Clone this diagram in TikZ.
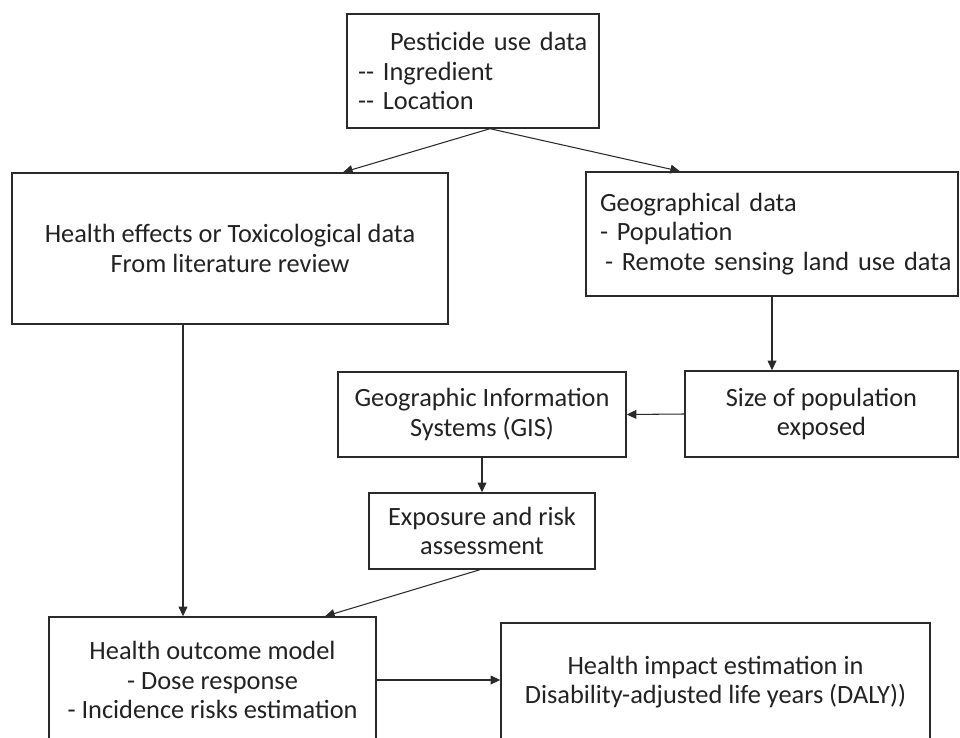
\documentclass[tikz,border=0pt]{standalone}
\usepackage{fontspec}
\setmainfont{Carlito}
\usetikzlibrary{arrows.meta,calc}
\definecolor{ink}{HTML}{222222}
\definecolor{line}{HTML}{2A2A2A}

\begin{document}
\begin{tikzpicture}[
  font=\fontsize{15}{16.6}\selectfont,
  text=ink,
  box/.style={
    draw=line,
    line width=0.8pt,
    align=center,
    inner sep=0pt
  },
  listbox/.style={
    box,
    align=left
  },
  arrow/.style={-{Triangle[length=5.5pt,width=5pt]}, line width=0.6pt, draw=line}
]

\useasboundingbox (0,0) rectangle (19.2,-14.76);
\clip (0,0) rectangle (19.2,-14.76);

% Input data
\node[listbox, minimum height=2.28cm, text width=4.60cm, inner xsep=0.22cm] (pesticide) at (9.46,-1.42) {\hspace*{0.64cm}\mbox{Pesticide use data}\\-{}- Ingredient\\-{}- Location};
\node[box, minimum width=8.72cm, minimum height=3.02cm] (healtheffects) at (4.60,-4.97) {Health effects or Toxicological data\\From literature review};
\node[listbox, minimum height=2.48cm, text width=6.88cm, inner xsep=0.28cm] (geodata) at (15.44,-4.68) {Geographical data\\- Population\\\hspace*{0.1cm}\mbox{- Remote sensing land use data}};

\draw[arrow] ([xshift=0.34cm]pesticide.south) -- ([xshift=2.26cm]healtheffects.north);
\draw[arrow] ([xshift=0.34cm]pesticide.south) -- ([xshift=-1.84cm]geodata.north);

% Exposure path
\node[box, minimum width=5.46cm, minimum height=1.72cm] (popsize) at (16.43,-8.28) {Size of population\\exposed};
\node[box, minimum width=5.76cm, minimum height=1.70cm] (gis) at (9.64,-8.29) {Geographic Information\\Systems (GIS)};
\node[box, minimum width=4.52cm, minimum height=1.52cm] (exposure) at (9.64,-10.62) {Exposure and risk\\assessment};

\draw[arrow] (geodata.south) -- (geodata.south |- popsize.north);
\draw[arrow] (popsize.west) -- (gis.east);
\draw[arrow] (gis.south) -- (exposure.north);

% Outcome
\node[box, minimum width=6.54cm, minimum height=2.52cm] (outcome) at (4.25,-13.60) {Health outcome model\\- Dose response\\- Incidence risks estimation};
\node[box, minimum width=8.58cm, minimum height=2.36cm] (impact) at (14.31,-13.64) {Health impact estimation in\\Disability-adjusted life years (DALY))};

\draw[arrow] ([xshift=-0.94cm]healtheffects.south) -- ([xshift=-0.94cm]healtheffects.south |- outcome.north);
\draw[arrow] ([xshift=-0.04cm]exposure.south) -- ([xshift=2.25cm]outcome.north);
\draw[arrow] (outcome.east) -- (outcome.east -| impact.west);

\end{tikzpicture}
\end{document}
